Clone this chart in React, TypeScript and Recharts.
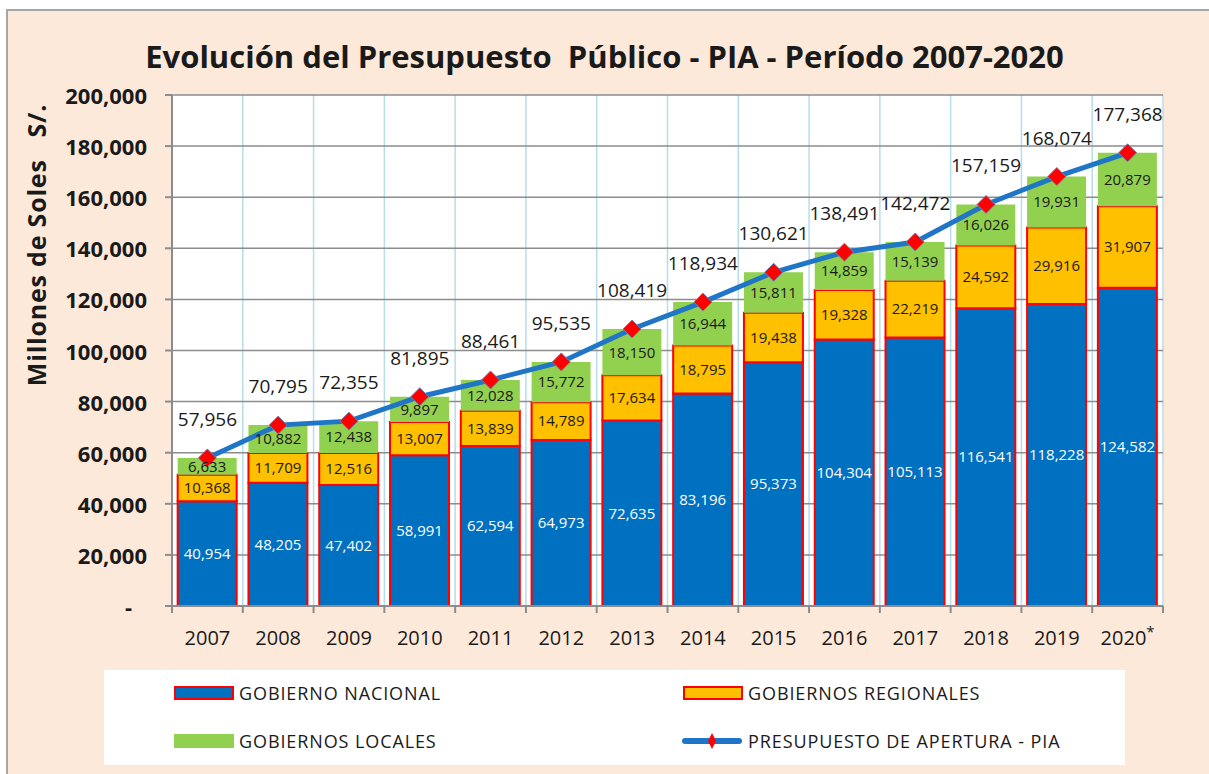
import React from "react";
import { ComposedChart, Bar, Line, XAxis, YAxis, CartesianGrid, LabelList } from "recharts";

const years = ["2007", "2008", "2009", "2010", "2011", "2012", "2013", "2014", "2015", "2016", "2017", "2018", "2019", "2020*"];
const nacional = [40954, 48205, 47402, 58991, 62594, 64973, 72635, 83196, 95373, 104304, 105113, 116541, 118228, 124582];
const regionales = [10368, 11709, 12516, 13007, 13839, 14789, 17634, 18795, 19438, 19328, 22219, 24592, 29916, 31907];
const locales = [6633, 10882, 12438, 9897, 12028, 15772, 18150, 16944, 15811, 14859, 15139, 16026, 19931, 20879];
const pia = [57956, 70795, 72355, 81895, 88461, 95535, 108419, 118934, 130621, 138491, 142472, 157159, 168074, 177368];
const yTicks = [0, 20000, 40000, 60000, 80000, 100000, 120000, 140000, 160000, 180000, 200000];

const data = years.map((y, i) => ({
  year: y,
  nacional: nacional[i],
  regionales: regionales[i],
  locales: locales[i],
  pia: pia[i],
}));

const W = 1209;
const H = 774;
const M = { top: 95, right: 46, left: 72, bottom: 128 };
const Y_W = 100;
const PLOT_W = W - M.left - Y_W - M.right;
const BAND = PLOT_W / years.length;

const BLUE = "#0070C0";
const ORANGE = "#FFC000";
const GREEN = "#92D050";
const RED = "#FF0000";
const LINE = "#1F75C6";
const AXIS = "#8C8C8C";

const fmt = (v: number) => v.toLocaleString("en-US");

function XTick(props: any) {
  const { x, y, payload, index } = props;
  const label: string = payload.value;
  const star = label.endsWith("*");
  return (
    <g>
      <line x1={x - BAND / 2} x2={x - BAND / 2} y1={y} y2={y + 7} stroke={AXIS} strokeWidth={2} />
      {index === years.length - 1 && (
        <line x1={x + BAND / 2} x2={x + BAND / 2} y1={y} y2={y + 7} stroke={AXIS} strokeWidth={2} />
      )}
      <text x={x} y={y + 31} textAnchor="middle" dominantBaseline="central" fontSize={20} fill="#1a1a1a">
        {star ? label.slice(0, -1) : label}
        {star && (
          <tspan fontSize={15} dy={-6}>
            *
          </tspan>
        )}
      </text>
    </g>
  );
}

function YTick(props: any) {
  const { x, y, payload } = props;
  const v = payload.value as number;
  return (
    <text
      x={v === 0 ? x - 15 : x}
      y={y}
      textAnchor="end"
      dominantBaseline="central"
      fontSize={22}
      fontWeight={700}
      fill="#1a1a1a"
    >
      {v === 0 ? "-" : fmt(v)}
    </text>
  );
}

function Diamond(props: any) {
  const { cx, cy } = props;
  if (cx == null || cy == null) return null;
  const r = 9;
  return (
    <polygon
      points={`${cx},${cy - r} ${cx + r},${cy} ${cx},${cy + r} ${cx - r},${cy}`}
      fill={RED}
      stroke="#7080B0"
      strokeWidth={1}
    />
  );
}

function TotalLabel(props: any) {
  const { x, y, value } = props;
  return (
    <text x={x} y={y - 39} textAnchor="middle" dominantBaseline="central" fontSize={19} fontWeight={500} fill="#1a1a1a">
      {fmt(value)}
    </text>
  );
}

function LegendItem({ left, top, kind, color, text }: any) {
  return (
    <div style={{ position: "absolute", left, top, height: 20, display: "flex", alignItems: "center" }}>
      {kind === "line" ? (
        <svg width={62} height={20}>
          <line x1={4} x2={58} y1={10} y2={10} stroke={LINE} strokeWidth={6} strokeLinecap="round" />
          <polygon points="31,2 35,10 31,18 27,10" fill={RED} />
        </svg>
      ) : (
        <div
          style={{
            width: kind === "border" ? 56 : 60,
            height: kind === "border" ? 10 : 14,
            background: color,
            border: kind === "border" ? `2px solid ${RED}` : "none",
          }}
        />
      )}
      <span style={{ marginLeft: 5, fontSize: 18, color: "#1a1a1a", letterSpacing: 0.9 }}>{text}</span>
    </div>
  );
}

export default function App() {
  return (
    <div style={{ position: "relative", width: W, height: H, overflow: "hidden", background: "#fff", fontFamily: "'Open Sans', sans-serif" }}>
      <style>{`body{margin:0}`}</style>
      <div
        style={{
          position: "absolute",
          left: 6,
          top: 9,
          width: 1230,
          height: 790,
          background: "#FDE9D9",
          border: "2px solid #A6A6A6",
        }}
      />
      <div
        style={{
          position: "absolute",
          left: 0,
          width: W,
          top: 35,
          textAlign: "center",
          fontSize: 31,
          fontWeight: 700,
          color: "#1a1a1a",
          whiteSpace: "pre",
        }}
      >
        Evolución del Presupuesto  Público - PIA - Período 2007-2020
      </div>
      <div
        style={{
          position: "absolute",
          left: 36,
          top: 245,
          transform: "translate(-50%, -50%) rotate(-90deg)",
          fontSize: 25,
          fontWeight: 700,
          letterSpacing: 0.8,
          color: "#1a1a1a",
          whiteSpace: "pre",
        }}
      >
        Millones de Soles   S/.
      </div>
      <div style={{ position: "absolute", left: 0, top: 0 }}>
        <ComposedChart width={W} height={H} data={data} margin={M} barCategoryGap="8%">
          <CartesianGrid
            fill="#fff"
            horizontal={false}
            stroke="#B7DDE8"
            strokeWidth={1.5}
            verticalCoordinatesGenerator={({ offset }: any) =>
              years.map((_, i) => offset.left + ((i + 1) * offset.width) / years.length)
            }
          />
          <CartesianGrid vertical={false} stroke="#8C8C8C" strokeWidth={1.5} />
          <XAxis
            dataKey="year"
            height={40}
            tickLine={false}
            tickSize={0}
            tickMargin={0}
            interval={0}
            axisLine={{ stroke: AXIS, strokeWidth: 2 }}
            tick={<XTick />}
          />
          <YAxis
            width={Y_W}
            domain={[0, 200000]}
            ticks={yTicks}
            interval={0}
            tickSize={7}
            tickMargin={18}
            tickLine={{ stroke: AXIS, strokeWidth: 2 }}
            axisLine={{ stroke: AXIS, strokeWidth: 2 }}
            tick={<YTick />}
          />
          <Bar dataKey="nacional" stackId="a" fill={BLUE} stroke={RED} strokeWidth={2} isAnimationActive={false}>
            <LabelList dataKey="nacional" position="center" formatter={(v: any) => fmt(v)} fill="#fff" stroke="none" fontSize={15} />
          </Bar>
          <Bar dataKey="regionales" stackId="a" fill={ORANGE} stroke={RED} strokeWidth={2} isAnimationActive={false}>
            <LabelList dataKey="regionales" position="center" formatter={(v: any) => fmt(v)} fill="#1a1a1a" stroke="none" fontSize={15} />
          </Bar>
          <Bar dataKey="locales" stackId="a" fill={GREEN} isAnimationActive={false}>
            <LabelList dataKey="locales" position="center" formatter={(v: any) => fmt(v)} fill="#1a1a1a" stroke="none" fontSize={15} />
          </Bar>
          <Line
            dataKey="pia"
            stroke={LINE}
            strokeWidth={5}
            dot={<Diamond />}
            activeDot={false}
            isAnimationActive={false}
          >
            <LabelList dataKey="pia" content={<TotalLabel />} />
          </Line>
        </ComposedChart>
      </div>
      <div style={{ position: "absolute", left: 104, top: 670, width: 1021, height: 95, background: "#fff" }}>
        <LegendItem left={70} top={13} kind="border" color={BLUE} text="GOBIERNO NACIONAL" />
        <LegendItem left={579} top={13} kind="border" color={ORANGE} text="GOBIERNOS REGIONALES" />
        <LegendItem left={70} top={61} kind="fill" color={GREEN} text="GOBIERNOS LOCALES" />
        <LegendItem left={577} top={61} kind="line" text="PRESUPUESTO DE APERTURA - PIA" />
      </div>
    </div>
  );
}
